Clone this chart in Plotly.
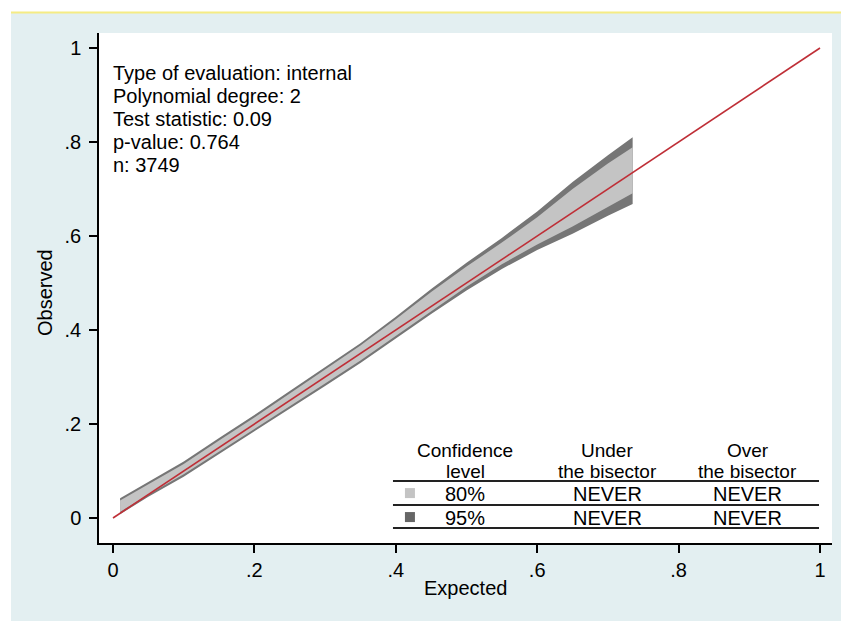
import plotly.graph_objects as go

# ---------------- data ----------------
expected = [0.01, 0.05, 0.10, 0.15, 0.20, 0.25, 0.30, 0.35, 0.40, 0.45, 0.50, 0.55, 0.60, 0.65, 0.70, 0.735]
upper95 = [0.042, 0.076, 0.120, 0.170, 0.219, 0.270, 0.321, 0.372, 0.428, 0.487, 0.543, 0.596, 0.652, 0.715, 0.772, 0.810]
upper80 = [0.037, 0.071, 0.115, 0.165, 0.214, 0.265, 0.316, 0.367, 0.423, 0.481, 0.535, 0.586, 0.640, 0.700, 0.754, 0.789]
lower80 = [0.013, 0.050, 0.093, 0.142, 0.189, 0.238, 0.286, 0.335, 0.387, 0.440, 0.492, 0.540, 0.582, 0.620, 0.662, 0.691]
lower95 = [0.008, 0.045, 0.088, 0.137, 0.184, 0.233, 0.281, 0.330, 0.382, 0.434, 0.484, 0.530, 0.570, 0.605, 0.643, 0.668]

bisector_x = [0, 1]
bisector_y = [0, 1]

tick_vals = [0, 0.2, 0.4, 0.6, 0.8, 1]
tick_text = ["0", ".2", ".4", ".6", ".8", "1"]

info_lines = ["Type of evaluation: internal", "Polynomial degree: 2",
              "Test statistic: 0.09", "p-value: 0.764", "n: 3749"]

table_header = [["Confidence", "level"], ["Under", "the bisector"], ["Over", "the bisector"]]
table_levels = ["80%", "95%"]
table_under = ["NEVER", "NEVER"]
table_over = ["NEVER", "NEVER"]

# ---------------- styling ----------------
FONT = "Liberation Sans, Arial, Helvetica, sans-serif"
FS = 20
DARK = "#767676"
LIGHT = "#c4c4c4"
RED = "#bf2f37"
BG = "#e3eff1"

W, H = 841, 621
SL, ST, SR, SB = 99, 33, 832, 543          # plot area in pixels
L, T = SL, ST
R, B = W - SR, H - SB


def px(xs):
    return (xs - SL) / (SR - SL)


def py(ys):
    return (SB - ys) / (SB - ST)


fig = go.Figure()

fig.add_trace(go.Scatter(
    x=expected + expected[::-1], y=upper95 + lower95[::-1],
    fill="toself", fillcolor=DARK, line=dict(width=0), mode="lines",
    hoverinfo="skip", showlegend=False))
fig.add_trace(go.Scatter(
    x=expected + expected[::-1], y=upper80 + lower80[::-1],
    fill="toself", fillcolor=LIGHT, line=dict(width=0), mode="lines",
    hoverinfo="skip", showlegend=False))
fig.add_trace(go.Scatter(
    x=bisector_x, y=bisector_y, mode="lines",
    line=dict(color=RED, width=1.6), showlegend=False))

# legend squares in table
fig.add_trace(go.Scatter(
    x=[0.420, 0.420], y=[0.053, 0.002], mode="markers",
    marker=dict(symbol="square", size=10, color=[LIGHT, "#666666"], line=dict(width=0)),
    showlegend=False, hoverinfo="skip"))

annotations = []
for i, line in enumerate(info_lines):
    annotations.append(dict(
        x=px(111), y=py(73 + 23 * i), xref="paper", yref="paper",
        text=line, showarrow=False, xanchor="left", yanchor="middle",
        font=dict(family=FONT, size=FS, color="black")))

col_x = [0.498, 0.699, 0.898]
for cx, (h1, h2) in zip(col_x, table_header):
    annotations.append(dict(x=cx, y=0.143, xref="x", yref="y", text=h1,
                            showarrow=False, xanchor="center", yanchor="middle",
                            font=dict(family=FONT, size=19, color="black")))
    annotations.append(dict(x=cx, y=0.100, xref="x", yref="y", text=h2,
                            showarrow=False, xanchor="center", yanchor="middle",
                            font=dict(family=FONT, size=19, color="black")))
row_y = [0.052, 0.001]
for ry, lv, un, ov in zip(row_y, table_levels, table_under, table_over):
    for cx, t in zip(col_x, [lv, un, ov]):
        annotations.append(dict(x=cx, y=ry, xref="x", yref="y", text=t,
                                showarrow=False, xanchor="center", yanchor="middle",
                                font=dict(family=FONT, size=FS, color="black")))

annotations.append(dict(x=px(465), y=py(588), xref="paper", yref="paper",
                        text="Expected", showarrow=False, xanchor="center",
                        yanchor="middle", font=dict(family=FONT, size=FS, color="black")))
annotations.append(dict(x=px(45), y=py(293), xref="paper", yref="paper",
                        text="Observed", showarrow=False, textangle=-90,
                        xanchor="center", yanchor="middle",
                        font=dict(family=FONT, size=FS, color="black")))

shapes = [
    dict(type="rect", xref="paper", yref="paper", x0=px(0), x1=px(W), y0=py(12), y1=py(0),
         fillcolor="white", line=dict(width=0), layer="below"),
    dict(type="rect", xref="paper", yref="paper", x0=px(0), x1=px(11), y0=py(H), y1=py(0),
         fillcolor="white", line=dict(width=0), layer="below"),
    dict(type="line", xref="paper", yref="paper", x0=px(11), x1=px(W), y0=py(12.5), y1=py(12.5),
         line=dict(color="#f5ec84", width=2)),
]
for yy in [0.0787, 0.0277, -0.0213]:
    shapes.append(dict(type="line", xref="x", yref="y", x0=0.396, x1=0.9986, y0=yy, y1=yy,
                       line=dict(color="#222222", width=2)))

axis_common = dict(
    showgrid=False, zeroline=False, showline=True, linecolor="black", linewidth=1.5,
    ticks="outside", ticklen=8, tickwidth=1.5, tickcolor="black",
    tickvals=tick_vals, ticktext=tick_text,
    tickfont=dict(family=FONT, size=FS, color="black"), mirror=False)

fig.update_layout(
    width=W, height=H,
    margin=dict(l=L, r=R, t=T, b=B, pad=0),
    paper_bgcolor=BG, plot_bgcolor="white",
    xaxis=dict(range=[-14 / 707, 1 + 12 / 707], **axis_common),
    yaxis=dict(range=[-25 / 470, 1 + 15 / 470], ticklabelstandoff=4, **axis_common),
    annotations=annotations, shapes=shapes, showlegend=False,
)

fig.write_html(
    "out.html",
    config={"displayModeBar": False},
    post_script=(
        "document.body.style.margin='0';"
        "document.body.style.overflow='hidden';"
        "document.documentElement.style.background='" + BG + "';"
        "document.body.style.background='" + BG + "';"
    ),
)
